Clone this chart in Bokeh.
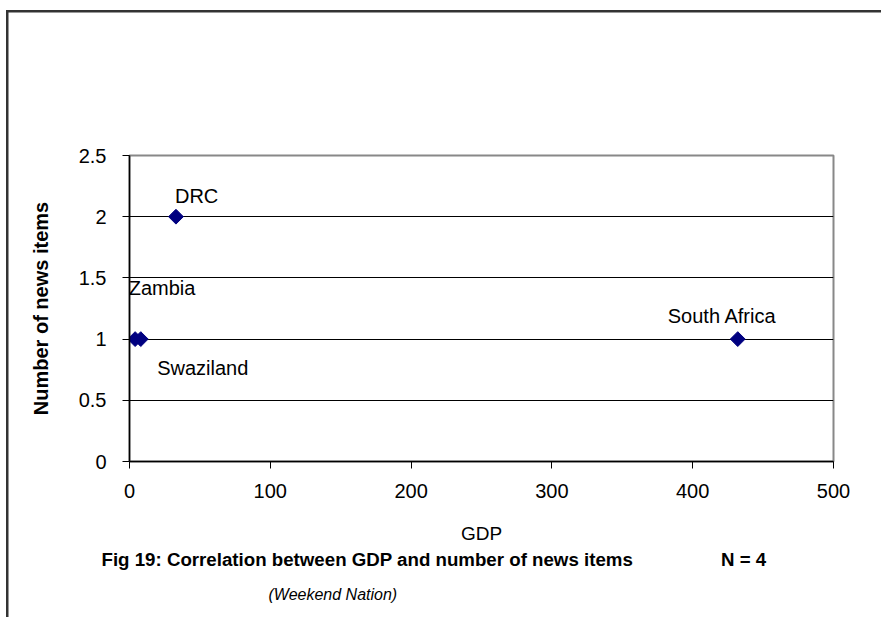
import numpy as np
from bokeh.plotting import figure
from bokeh.models import (ColumnDataSource, LabelSet, FixedTicker, Range1d,
                          Title, InlineStyleSheet)
from bokeh.core.properties import value
from bokeh.embed import file_html
from bokeh.resources import INLINE

# GDP against the number of news items per country
countries = ["DRC", "Zambia", "Swaziland", "South Africa"]
gdp = [33, 8, 4, 432]
news_items = [2, 1, 1, 1]

x_ticks = [0, 100, 200, 300, 400, 500]
y_ticks = [0, 0.5, 1, 1.5, 2, 2.5]
y_tick_labels = ["0", "0.5", "1", "1.5", "2", "2.5"]

# label placement relative to each point (pixels)
label_dx = [-1, -12, 22, -70]
label_dy = [14, 44, -36, 16]

FONT = "Liberation Sans"

# frame lines around the figure: left edge and top edge only
frame_css = InlineStyleSheet(css="""
:host { position: relative; }
:host::after {
  content: "";
  position: absolute;
  left: 6px; top: 10px; right: 0; bottom: 0;
  border: 0 none transparent;
  background: transparent;
  box-shadow: inset 2.5px 2.5px 0 0 #333333;
  pointer-events: none;
  z-index: 5;
}
""")

p = figure(width=881, height=617, output_backend="svg", toolbar_location=None,
           x_range=Range1d(0, 500), y_range=Range1d(0, 2.5),
           min_border_left=129, min_border_right=48,
           min_border_top=155, min_border_bottom=154,
           stylesheets=[frame_css])
p.background_fill_color = "white"
p.border_fill_color = "white"
p.outline_line_color = "#888888"
p.outline_line_width = 2

# axes
for ax in (p.xaxis[0], p.yaxis[0]):
    ax.axis_line_color = "black"
    ax.axis_line_width = 1.5
    ax.major_tick_line_color = "black"
    ax.major_tick_in = 0
    ax.major_tick_out = 7
    ax.minor_tick_line_color = None
    ax.major_label_text_font = FONT
    ax.major_label_text_font_size = "20px"
    ax.major_label_text_color = "black"

p.xaxis.ticker = FixedTicker(ticks=x_ticks)
p.yaxis.ticker = FixedTicker(ticks=y_ticks)
p.yaxis.major_label_overrides = {t: s for t, s in zip(y_ticks, y_tick_labels)}
p.xaxis.major_label_standoff = 15
p.yaxis.major_label_standoff = 16

p.xaxis.axis_label = "GDP"
p.xaxis.axis_label_text_font = FONT
p.xaxis.axis_label_text_font_size = "19px"
p.xaxis.axis_label_text_font_style = "normal"
p.xaxis.axis_label_text_color = "black"
p.xaxis.axis_label_standoff = 22

p.yaxis.axis_label = "Number of news items"
p.yaxis.axis_label_text_font = FONT
p.yaxis.axis_label_text_font_size = "20px"
p.yaxis.axis_label_text_font_style = "bold"
p.yaxis.axis_label_text_color = "black"
p.yaxis.axis_label_standoff = 24

p.xgrid.grid_line_color = None
p.ygrid.ticker = FixedTicker(ticks=y_ticks[1:-1])
p.ygrid.grid_line_color = "black"
p.ygrid.grid_line_width = 1

src = ColumnDataSource(dict(x=gdp, y=news_items, name=countries,
                            dx=label_dx, dy=label_dy))

p.scatter("x", "y", source=src, marker="square", angle=np.pi / 4, size=10.5,
          fill_color="#000080", line_color="#000080")

labels = LabelSet(x="x", y="y", text="name", source=src,
                  x_offset="dx", y_offset="dy",
                  text_font=value(FONT), text_font_size="20px",
                  text_color="black", text_align="left",
                  text_baseline="alphabetic")
p.add_layout(labels)

# caption under the chart
NBSP = "\u00a0"
caption = ("Fig 19: Correlation between GDP and number of news items"
           + NBSP * 17 + "N = 4")
p.add_layout(Title(text=caption, align="left", offset=-28, standoff=0,
                   text_font=FONT, text_font_size="18.7px",
                   text_font_style="bold", text_color="black"), "below")
p.add_layout(Title(text="(Weekend Nation)", align="left", offset=139,
                   standoff=29, text_font=FONT, text_font_size="16px",
                   text_font_style="italic", text_color="black"), "below")

open("out.html", "w").write(file_html(p, INLINE))
